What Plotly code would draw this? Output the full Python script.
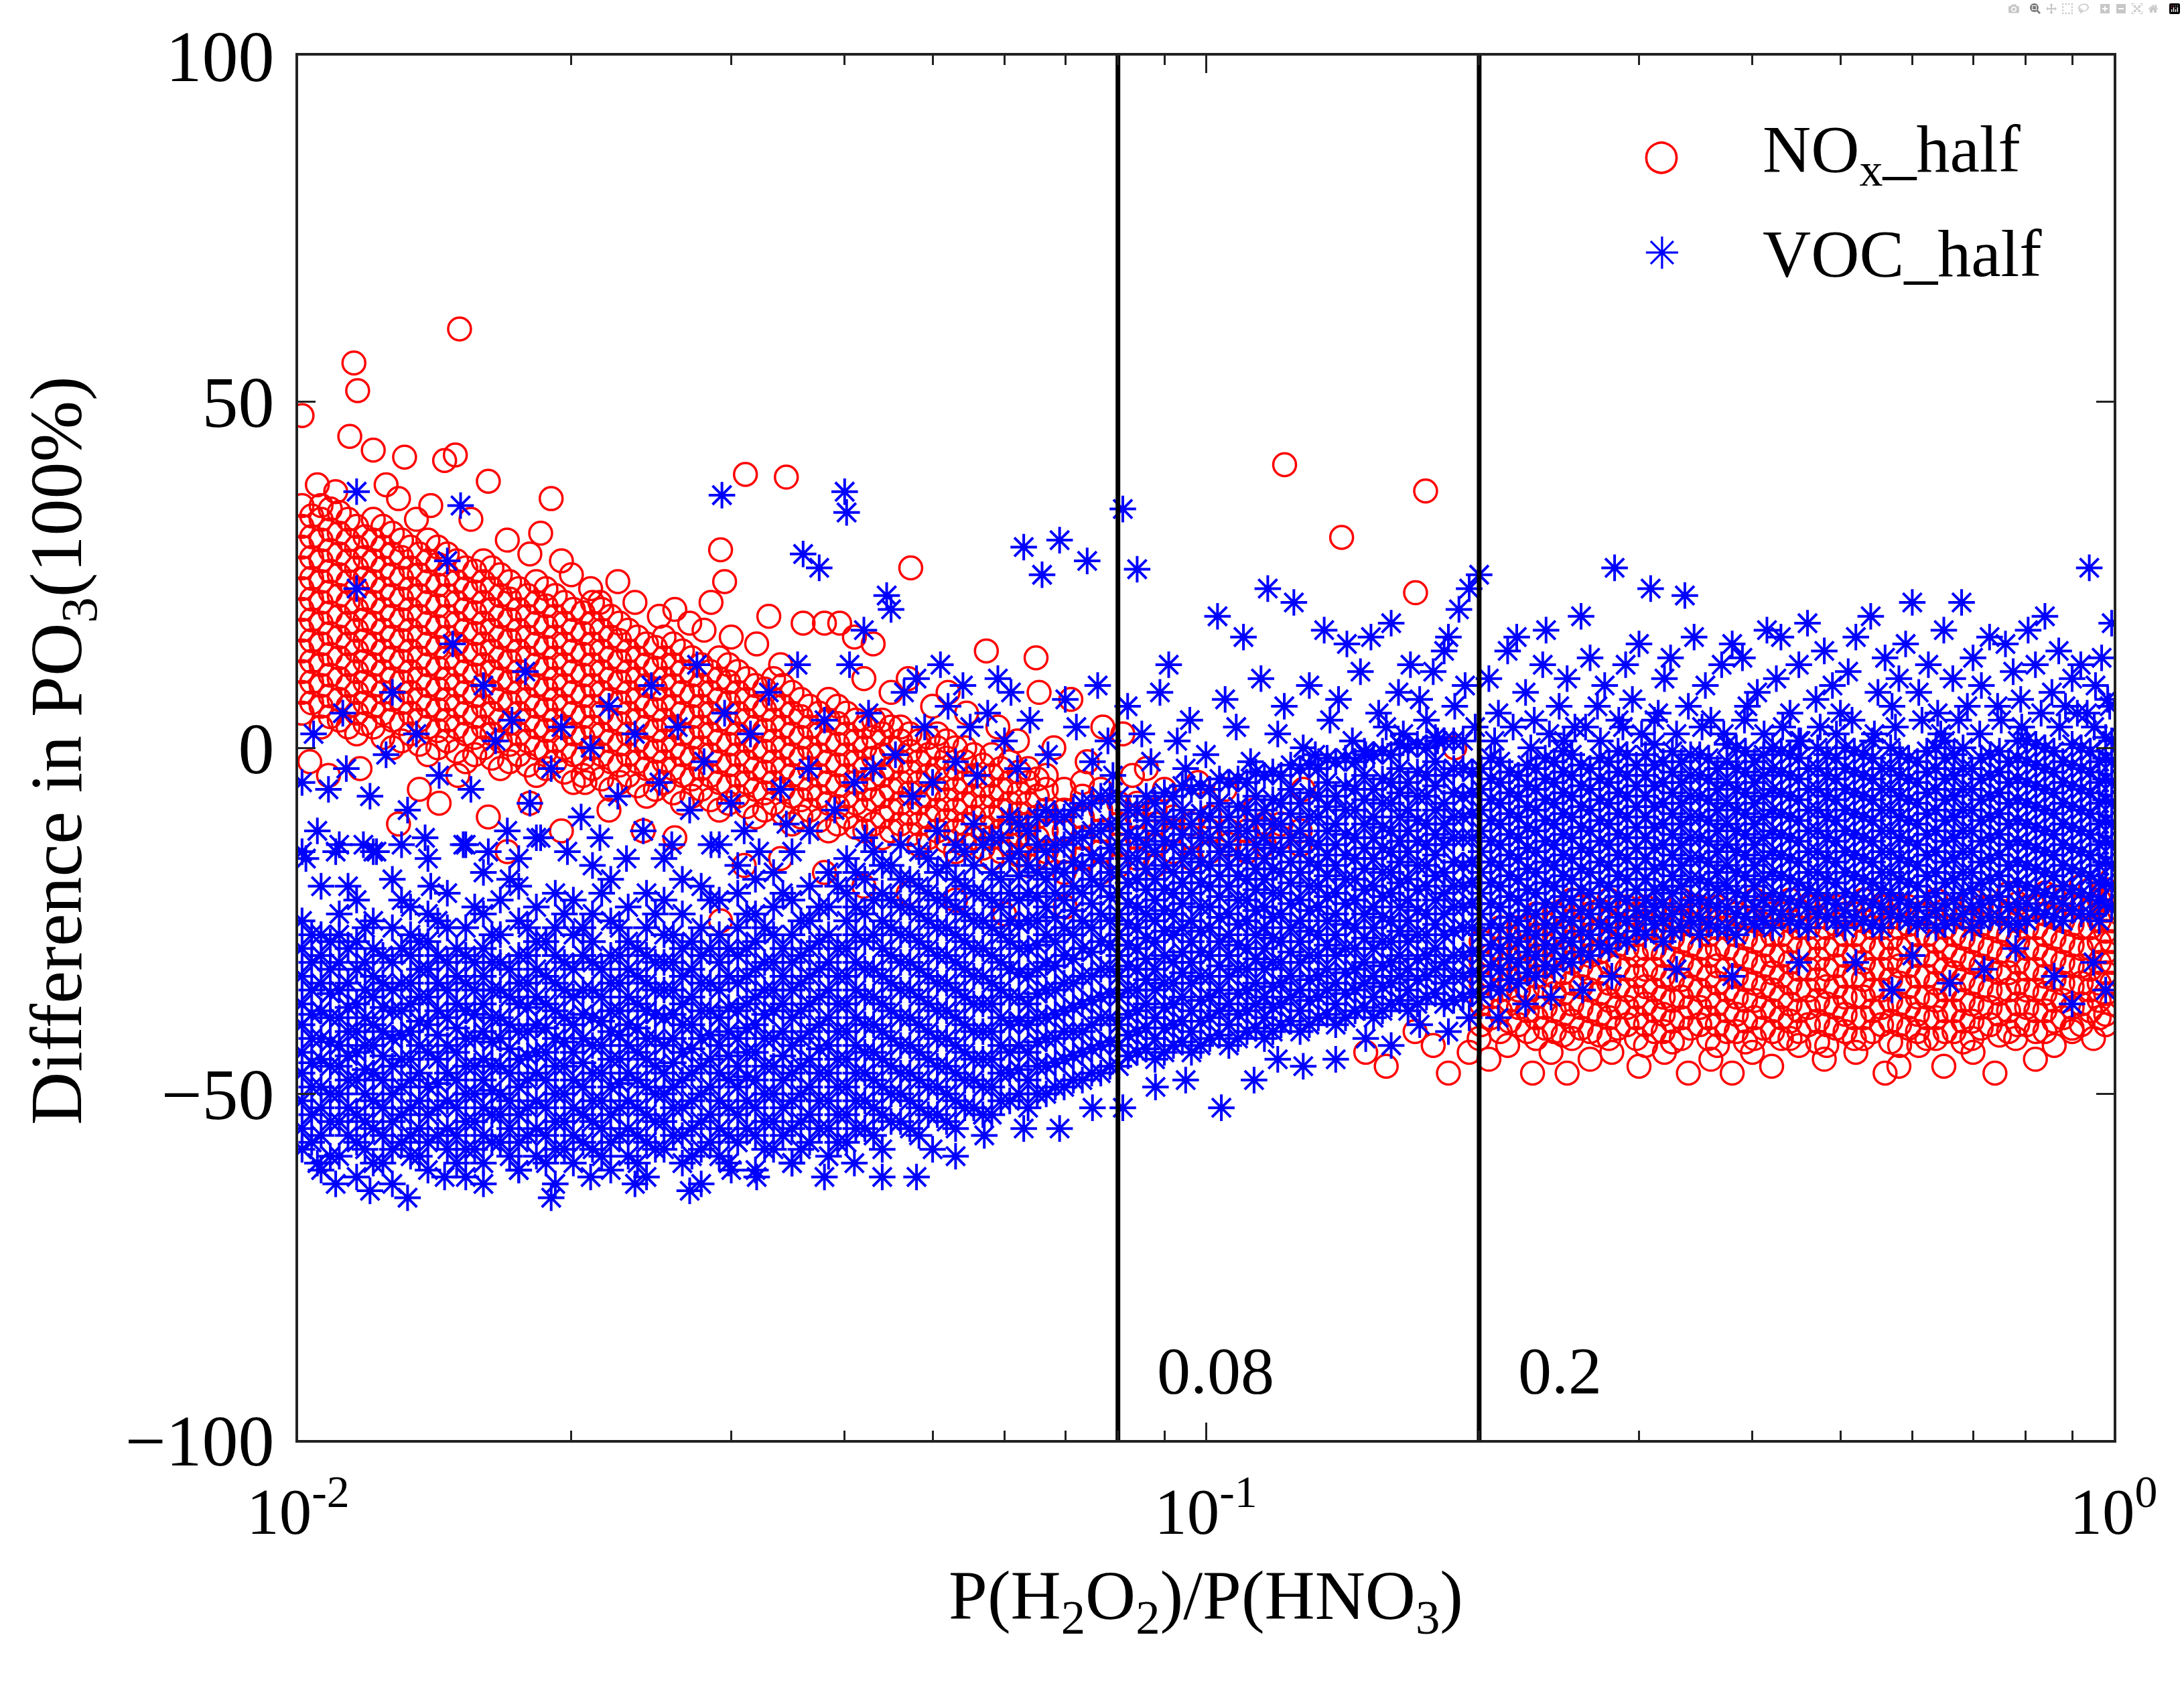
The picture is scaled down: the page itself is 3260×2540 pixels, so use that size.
import math
import plotly.graph_objects as go

# ---------------- data ----------------
# NOx_half (red circles): dense band, x of each column and the y values in it
nox_band_x = [0.0101, 0.0106, 0.0111, 0.0116, 0.0121, 0.0127, 0.0133, 0.0139, 0.0146, 0.0153,
              0.0160, 0.0167, 0.0175, 0.0183, 0.0192, 0.0201, 0.0211, 0.0221, 0.0231, 0.0242,
              0.0253, 0.0265, 0.0278, 0.0291, 0.0305, 0.0319, 0.0334, 0.0350, 0.0366, 0.0384,
              0.0402, 0.0421, 0.0440, 0.0461, 0.0483, 0.0506, 0.0530, 0.0555, 0.0581, 0.0608,
              0.0637, 0.0667, 0.0698, 0.0731, 0.0766, 0.0802, 0.0840, 0.0879, 0.0921, 0.0964,
              0.101, 0.106, 0.111, 0.116, 0.121, 0.127]
nox_band_y = [
    [5, 8, 11, 14, 17, 20, 23, 26, 29, 32, 35],
    [3, 6, 9, 12, 15, 18, 21, 24, 27, 30, 33, 35],
    [4, 7, 10, 13, 16, 19, 22, 25, 28, 31, 34],
    [2, 5, 8, 11, 14, 17, 20, 23, 26, 29, 32],
    [3, 6, 9, 12, 15, 18, 21, 24, 27, 30, 33],
    [0, 4, 7, 10, 13, 16, 19, 22, 25, 28, 31],
    [2, 5, 8, 11, 14, 17, 20, 23, 26, 29],
    [-1, 3, 6, 9, 12, 15, 18, 21, 24, 27, 30],
    [1, 4, 7, 10, 13, 16, 19, 22, 25, 28],
    [-2, 2, 5, 8, 11, 14, 17, 20, 23, 26],
    [0, 3, 6, 9, 12, 15, 18, 21, 24, 27],
    [-3, 1, 4, 7, 10, 13, 16, 19, 22, 25],
    [-1, 2, 5, 8, 11, 14, 17, 20, 23],
    [-4, 0, 3, 6, 9, 12, 15, 18, 21, 24],
    [-2, 1, 4, 7, 10, 13, 16, 19, 22],
    [-5, -1, 2, 5, 8, 11, 14, 17, 20],
    [-3, 0, 3, 6, 9, 12, 15, 18, 21],
    [-6, -2, 1, 4, 7, 10, 13, 16, 19],
    [-4, -1, 2, 5, 8, 11, 14, 17],
    [-7, -3, 0, 3, 6, 9, 12, 15],
    [-5, -2, 1, 4, 7, 10, 13, 16],
    [-8, -4, -1, 2, 5, 8, 11, 14],
    [-6, -3, 0, 3, 6, 9, 12],
    [-9, -5, -2, 1, 4, 7, 10, 13],
    [-7, -4, -1, 2, 5, 8, 11],
    [-10, -6, -3, 0, 3, 6, 9],
    [-8, -5, -2, 1, 4, 7, 10],
    [-11, -7, -4, -1, 2, 5, 8],
    [-9, -6, -3, 0, 3, 6],
    [-12, -8, -5, -2, 1, 4, 7],
    [-10, -7, -4, -1, 2, 5],
    [-12, -9, -6, -3, 0, 3],
    [-13, -10, -7, -4, -1, 2, 4],
    [-11, -8, -5, -2, 1, 3],
    [-14, -11, -8, -5, -2, 1],
    [-12, -9, -6, -3, 0, 2],
    [-15, -12, -9, -6, -3, 0],
    [-13, -10, -7, -4, -1],
    [-16, -13, -10, -7, -4, -1],
    [-14, -11, -8, -5, -2],
    [-17, -14, -11, -8, -5, -3],
    [-15, -12, -9, -6, -4],
    [-18, -15, -12, -9, -6],
    [-16, -13, -10, -7, -5],
    [-18, -15, -12, -9, -6],
    [-17, -14, -11, -8],
    [-16, -13, -10, -8],
    [-17, -14, -11, -9],
    [-15, -12, -10],
    [-16, -13, -11],
    [-15, -12, -10],
    [-14, -12],
    [-15, -12],
    [-14, -11],
    [-13, -11],
    [-14, -12],
]
# NOx_half: in-between columns of the same band
nox_band2_x = [0.01035, 0.01085, 0.01135, 0.01185, 0.0124, 0.0130, 0.0136, 0.01425, 0.01495, 0.01565,
               0.01635, 0.0171, 0.0179, 0.01875, 0.01965, 0.0206, 0.0216, 0.0226, 0.02365, 0.02475,
               0.0259, 0.02715, 0.02845, 0.0298, 0.0312, 0.03265, 0.0342, 0.0358, 0.0375, 0.0393,
               0.04115, 0.04305, 0.0450, 0.0472, 0.04945, 0.0518, 0.05425, 0.0568, 0.05945, 0.06225,
               0.0652]
nox_band2_y = [
    [6.5, 9.5, 12.5, 15.5, 18.5, 21.5, 24.5, 27.5, 30.5, 33.5],
    [4.5, 7.5, 10.5, 13.5, 16.5, 19.5, 22.5, 25.5, 28.5, 31.5, 34.5],
    [3, 6, 9, 12, 15, 18, 21, 24, 27, 30, 33],
    [3.5, 6.5, 9.5, 12.5, 15.5, 18.5, 21.5, 24.5, 27.5, 30.5],
    [1.5, 5, 8, 11, 14, 17, 20, 23, 26, 29, 32],
    [1, 3.5, 6.5, 9.5, 12.5, 15.5, 18.5, 21.5, 24.5, 27.5, 30],
    [0.5, 4, 7, 10, 13, 16, 19, 22, 25, 28],
    [0, 2.5, 5.5, 8.5, 11.5, 14.5, 17.5, 20.5, 23.5, 26.5, 29],
    [-0.5, 3, 6, 9, 12, 15, 18, 21, 24, 27],
    [-1, 1.5, 4.5, 7.5, 10.5, 13.5, 16.5, 19.5, 22.5, 25.5],
    [-1.5, 2, 5, 8, 11, 14, 17, 20, 23, 26],
    [-2, 0.5, 3.5, 6.5, 9.5, 12.5, 15.5, 18.5, 21.5, 24],
    [-2.5, 1, 4, 7, 10, 13, 16, 19, 22],
    [-3, -0.5, 2.5, 5.5, 8.5, 11.5, 14.5, 17.5, 20.5, 23],
    [-3.5, 0, 3, 6, 9, 12, 15, 18, 21],
    [-4, -1.5, 1.5, 4.5, 7.5, 10.5, 13.5, 16.5, 19.5],
    [-4.5, -1, 2, 5, 8, 11, 14, 17, 20],
    [-5, -2.5, 0.5, 3.5, 6.5, 9.5, 12.5, 15.5, 18],
    [-5.5, -2, 1, 4, 7, 10, 13, 16],
    [-6, -3.5, -0.5, 2.5, 5.5, 8.5, 11.5, 14.5],
    [-6.5, -3, 0, 3, 6, 9, 12, 15],
    [-7, -4.5, -1.5, 1.5, 4.5, 7.5, 10.5, 13],
    [-7.5, -4, -1, 2, 5, 8, 11],
    [-8, -5.5, -2.5, 0.5, 3.5, 6.5, 9.5, 12],
    [-8.5, -5, -2, 1, 4, 7, 10],
    [-9, -6.5, -3.5, -0.5, 2.5, 5.5, 8.5],
    [-9.5, -6, -3, 0, 3, 6, 9],
    [-10, -7.5, -4.5, -1.5, 1.5, 4.5, 7],
    [-10.5, -7, -4, -1, 2, 5],
    [-11, -8.5, -5.5, -2.5, 0.5, 3.5, 6],
    [-11.5, -8, -5, -2, 1, 4],
    [-11, -7.5, -4.5, -1.5, 1.5, 4],
    [-12, -9, -6, -3, 0, 3],
    [-12.5, -9.5, -6.5, -3.5, -0.5, 2],
    [-13, -10, -7, -4, -1, 1.5],
    [-13.5, -10.5, -7.5, -4.5, -1.5, 1],
    [-14, -11, -8, -5, -2, 0],
    [-14.5, -11.5, -8.5, -5.5, -2.5],
    [-15, -12, -9, -6, -3],
    [-15.5, -12.5, -9.5, -6.5, -3.5],
    [-16, -13, -10, -7, -4.5],
]
# NOx_half: lower band between 0.2 and 1
nox_low_x = [0.201, 0.211, 0.221, 0.231, 0.242, 0.253, 0.265, 0.278, 0.291, 0.305,
             0.319, 0.334, 0.350, 0.366, 0.384, 0.402, 0.421, 0.440, 0.461, 0.483,
             0.506, 0.530, 0.555, 0.581, 0.608, 0.637, 0.667, 0.698, 0.731, 0.766,
             0.802, 0.840, 0.879, 0.921, 0.964, 0.995]
nox_low_y = [
    [-40, -37, -34, -31, -28],
    [-41, -38, -35, -32, -29, -26],
    [-40, -37.5, -35, -32, -29, -26],
    [-42, -39, -36, -33, -30, -27, -24],
    [-41, -38, -35.5, -33, -30, -27, -24],
    [-42, -39.5, -37, -34, -31, -28, -25, -22],
    [-41, -38, -35, -32.5, -30, -27, -24],
    [-42, -39, -36.5, -34, -31, -28, -25, -22],
    [-40, -37.5, -35, -32, -29, -26, -23],
    [-43, -40, -37, -34.5, -32, -29, -26, -23],
    [-41, -38.5, -36, -33, -30, -27, -24],
    [-42, -39, -36, -33.5, -31, -28, -25, -22],
    [-40, -37.5, -35, -32, -29, -26, -23],
    [-43, -40, -37, -34, -31.5, -29, -26, -23],
    [-41, -38.5, -36, -33, -30, -27, -24],
    [-42, -39, -36.5, -34, -31, -28, -25, -22],
    [-41, -38, -35, -32.5, -30, -27, -24],
    [-42, -39.5, -37, -34, -31, -28, -25, -22],
    [-40, -37.5, -35, -32, -29, -26, -23],
    [-43, -40, -37, -34.5, -32, -29, -26, -23],
    [-41, -38.5, -36, -33, -30, -27, -24],
    [-42, -39, -36, -33.5, -31, -28, -25, -22],
    [-40, -37.5, -35, -32, -29, -26, -23],
    [-43, -40, -37, -34, -31.5, -29, -26, -23],
    [-41, -38.5, -36, -33, -30, -27, -24],
    [-42, -39, -36.5, -34, -31, -28, -25, -22],
    [-41, -38, -35, -32.5, -30, -27, -24],
    [-42, -39.5, -37, -34, -31, -28, -25, -22],
    [-40, -37.5, -35, -32, -29, -26, -23],
    [-41, -38, -35, -32.5, -30, -27, -24, -21],
    [-40, -37.5, -35, -32, -29, -26, -23],
    [-41, -38, -35.5, -33, -30, -27, -24, -21],
    [-39, -36.5, -34, -31, -28, -25, -22],
    [-40, -37, -34, -31.5, -29, -26, -23, -20],
    [-39, -36.5, -34, -31, -28, -25, -22],
    [-37, -34, -31, -28, -25, -22, -19],
]
nox_low2_x = [0.206, 0.216, 0.226, 0.2365, 0.2475, 0.259, 0.2715, 0.2845, 0.298, 0.312,
              0.3265, 0.342, 0.358, 0.375, 0.393, 0.4115, 0.4305, 0.450, 0.472, 0.4945,
              0.518, 0.5425, 0.568, 0.5945, 0.6225, 0.652, 0.6825, 0.7145, 0.7485, 0.784,
              0.821, 0.8595, 0.900, 0.9425, 0.98]
nox_low2_y = [
    [-39, -36, -33, -30],
    [-39.5, -36.5, -33.5, -30.5, -27.5],
    [-41, -38, -35, -32, -29, -26],
    [-40.5, -37.5, -34.5, -31.5, -28.5, -25.5],
    [-41.5, -38.5, -35.5, -32.5, -29.5, -26.5, -23.5],
    [-40.5, -37.5, -34.5, -31.5, -28.5, -25.5, -23],
    [-41.5, -38.5, -35.5, -32.5, -29.5, -26.5, -23.5],
    [-40.5, -37.5, -34.5, -31.5, -28.5, -25.5, -23],
    [-42, -39, -36, -33, -30, -27, -24],
    [-41, -38, -35, -32, -29, -26, -23.5],
    [-42.5, -39.5, -36.5, -33.5, -30.5, -27.5, -24.5],
    [-40.5, -37.5, -34.5, -31.5, -28.5, -25.5, -23],
    [-42, -39, -36, -33, -30, -27, -24],
    [-41, -38, -35, -32, -29, -26, -23.5],
    [-42.5, -39.5, -36.5, -33.5, -30.5, -27.5, -24.5],
    [-40.5, -37.5, -34.5, -31.5, -28.5, -25.5, -23],
    [-42, -39, -36, -33, -30, -27, -24],
    [-41, -38, -35, -32, -29, -26, -23.5],
    [-42.5, -39.5, -36.5, -33.5, -30.5, -27.5, -24.5],
    [-40.5, -37.5, -34.5, -31.5, -28.5, -25.5, -23],
    [-42, -39, -36, -33, -30, -27, -24],
    [-41, -38, -35, -32, -29, -26, -23.5],
    [-42.5, -39.5, -36.5, -33.5, -30.5, -27.5, -24.5],
    [-40.5, -37.5, -34.5, -31.5, -28.5, -25.5, -23],
    [-42, -39, -36, -33, -30, -27, -24],
    [-41, -38, -35, -32, -29, -26, -23.5],
    [-42.5, -39.5, -36.5, -33.5, -30.5, -27.5, -24.5],
    [-40.5, -37.5, -34.5, -31.5, -28.5, -25.5, -23],
    [-41.5, -38.5, -35.5, -32.5, -29.5, -26.5, -23.5],
    [-40, -37, -34, -31, -28, -25, -22.5],
    [-41, -38, -35, -32, -29, -26, -23],
    [-39.5, -36.5, -33.5, -30.5, -27.5, -24.5, -21.5],
    [-40.5, -37.5, -34.5, -31.5, -28.5, -25.5, -22.5],
    [-38, -35, -32, -29, -26, -23, -20.5],
    [-38.5, -35.5, -32.5, -29.5, -26.5, -23.5, -20.5],
]
# NOx_half: scattered points (x, y)
nox_pts = [
    (0.0101, 48), (0.0114, 45), (0.01152, 55.6), (0.01163, 51.6), (0.0121, 43), (0.0129, 36),
    (0.0131, 42), (0.0145, 41.5), (0.0149, 42.3), (0.01506, 60.5), (0.0162, 38.5), (0.0190, 36),
    (0.0311, 39.5), (0.0345, 39.1), (0.0292, 28.6), (0.0473, 26), (0.1221, 40.9), (0.1411, 30.4),
    (0.1746, 37.1), (0.1702, 22.4),
    (0.0105, 38), (0.0110, 37), (0.0125, 38), (0.0135, 33), (0.0140, 35), (0.0155, 33),
    (0.0170, 30), (0.0180, 28), (0.0185, 31), (0.0195, 27), (0.0200, 25), (0.0210, 23),
    (0.0215, 21), (0.0225, 24), (0.0235, 21), (0.0250, 19), (0.0260, 20), (0.0270, 18),
    (0.0280, 17), (0.0285, 21), (0.0295, 24), (0.0300, 16), (0.0320, 15), (0.0330, 19),
    (0.0340, 12), (0.0360, 18), (0.0380, 18), (0.0395, 18), (0.0410, 16), (0.0420, 10),
    (0.0430, 15), (0.0450, 8), (0.0470, 10), (0.0500, 6), (0.0520, 8), (0.0545, 5),
    (0.0573, 14), (0.0590, 3), (0.0620, 1), (0.0650, 13), (0.0655, 8), (0.0680, 0),
    (0.0710, 7), (0.0740, -2), (0.0770, 3), (0.0810, 2), (0.0830, -4), (0.0860, -3),
    (0.0900, -6), (0.0980, -5), (0.1050, -6), (0.1130, -9), (0.1280, -6), (0.1880, 0),
    (0.0103, -2), (0.0108, -4), (0.0117, -3), (0.0129, -11), (0.0136, -6), (0.0143, -8),
    (0.0150, -4), (0.0162, -10), (0.0170, -15), (0.0180, -8), (0.0195, -12), (0.0207, -5),
    (0.0220, -9), (0.0240, -12), (0.0260, -13), (0.0292, -25), (0.0310, -17), (0.0340, -16),
    (0.0380, -18), (0.0420, -20), (0.0470, -21), (0.0530, -22), (0.0600, -24), (0.0700, -23),
    (0.150, -44), (0.158, -46), (0.170, -41), (0.178, -43), (0.185, -47), (0.195, -44),
    (0.200, -42), (0.205, -45), (0.215, -43), (0.229, -47), (0.240, -44), (0.250, -47),
    (0.265, -45), (0.280, -44), (0.300, -46), (0.320, -44), (0.340, -47), (0.360, -45),
    (0.380, -47), (0.400, -44), (0.420, -46), (0.450, -43), (0.480, -45), (0.520, -44),
    (0.560, -47), (0.580, -46), (0.610, -43), (0.650, -46), (0.700, -44), (0.740, -47),
    (0.780, -42), (0.820, -45), (0.860, -43), (0.900, -41), (0.950, -42), (0.980, -40),
]

# VOC_half (blue stars): dense cloud, x of each column and the y values in it
voc_band_x = [0.0101, 0.0106, 0.0111, 0.0116, 0.0121, 0.0127, 0.0133, 0.0139, 0.0146, 0.0153,
              0.0160, 0.0167, 0.0175, 0.0183, 0.0192, 0.0201, 0.0211, 0.0221, 0.0231, 0.0242,
              0.0253, 0.0265, 0.0278, 0.0291, 0.0305, 0.0319, 0.0334, 0.0350, 0.0366, 0.0384,
              0.0402, 0.0421, 0.0440, 0.0461, 0.0483, 0.0506, 0.0530, 0.0555, 0.0581, 0.0608,
              0.0637, 0.0667, 0.0698, 0.0731, 0.0766, 0.0802, 0.0840, 0.0879, 0.0921, 0.0964,
              0.101, 0.106, 0.111, 0.116, 0.121, 0.127, 0.133, 0.139, 0.146, 0.153,
              0.160, 0.167, 0.175, 0.183, 0.192, 0.201, 0.211, 0.221, 0.231, 0.242,
              0.253, 0.265, 0.278, 0.291, 0.305, 0.319, 0.334, 0.350, 0.366, 0.384,
              0.402, 0.421, 0.440, 0.461, 0.483, 0.506, 0.530, 0.555, 0.581, 0.608,
              0.637, 0.667, 0.698, 0.731, 0.766, 0.802, 0.840, 0.879, 0.921, 0.964, 0.995]
voc_band_y = [
    [-58, -55, -51, -47, -44, -40, -37, -33, -29, -25, -15],
    [-61, -56, -52, -49, -45, -42, -38, -34, -30, -27, -20],
    [-59, -54, -50, -46, -43, -39, -35, -31, -27, -24, -14],
    [-62, -57, -53, -48, -44, -41, -37, -32, -28, -22],
    [-60, -55, -51, -47, -43, -40, -36, -33, -29, -25, -15],
    [-63, -58, -54, -50, -46, -42, -38, -35, -31, -26, -19],
    [-59, -56, -52, -48, -45, -41, -37, -34, -30, -27, -23],
    [-61, -57, -53, -49, -44, -40, -36, -32, -28, -24, -16],
    [-58, -55, -51, -47, -43, -39, -35, -31, -26, -21],
    [-62, -58, -54, -50, -46, -42, -38, -34, -30, -26, -14],
    [-60, -56, -52, -48, -45, -41, -37, -33, -29, -24, -18],
    [-57, -53, -50, -46, -42, -39, -35, -31, -27, -22],
    [-61, -57, -53, -49, -45, -41, -37, -34, -30, -25, -20],
    [-59, -55, -51, -47, -44, -40, -36, -32, -28, -23, -13],
    [-63, -58, -54, -50, -46, -42, -38, -34, -30, -26, -21],
    [-60, -56, -52, -48, -44, -40, -36, -32, -27, -22],
    [-58, -54, -51, -47, -43, -39, -35, -31, -28, -24, -17],
    [-61, -57, -53, -49, -45, -41, -38, -34, -30, -25, -19],
    [-59, -55, -51, -47, -43, -40, -36, -32, -28, -23],
    [-62, -57, -53, -49, -45, -42, -38, -34, -30, -26, -21],
    [-58, -54, -50, -47, -43, -39, -35, -31, -27, -22, -16],
    [-60, -56, -52, -48, -44, -40, -37, -33, -29, -24, -19],
    [-63, -58, -54, -50, -46, -42, -38, -34, -30, -26, -20],
    [-59, -55, -51, -47, -43, -39, -35, -31, -27, -22, -14],
    [-57, -53, -49, -46, -42, -38, -34, -30, -26, -21, -17],
    [-61, -56, -52, -48, -44, -40, -36, -32, -28, -24, -19],
    [-58, -54, -50, -46, -42, -38, -35, -31, -27, -23, -18],
    [-60, -55, -51, -47, -43, -39, -35, -31, -27, -22, -15],
    [-57, -53, -49, -45, -41, -37, -33, -29, -25, -20, -12],
    [-59, -55, -51, -47, -43, -39, -35, -31, -27, -23, -18],
    [-57, -53, -49, -45, -41, -37, -33, -29, -25, -21, -16],
    [-55, -51, -47, -44, -40, -36, -32, -28, -24, -19, -13],
    [-58, -53, -49, -45, -41, -37, -33, -29, -25, -21, -17],
    [-54, -50, -47, -43, -39, -35, -31, -27, -23, -19, -14],
    [-56, -52, -48, -44, -40, -36, -32, -28, -24, -20, -15],
    [-53, -49, -46, -42, -38, -34, -30, -26, -22, -18, -12],
    [-55, -51, -47, -43, -39, -35, -31, -27, -23, -19, -14],
    [-52, -48, -45, -41, -37, -33, -29, -25, -21, -17, -11],
    [-53, -49, -45, -41, -37, -34, -30, -26, -22, -18, -13],
    [-51, -47, -44, -40, -36, -32, -28, -25, -21, -16, -10],
    [-52, -48, -44, -40, -37, -33, -29, -25, -21, -17, -12],
    [-50, -46, -42, -39, -35, -31, -27, -23, -19, -15, -9],
    [-49, -45, -41, -38, -34, -30, -26, -22, -18, -14, -10],
    [-48, -44, -41, -37, -33, -29, -25, -21, -17, -13, -8],
    [-47, -43, -39, -36, -32, -28, -24, -20, -16, -12, -7],
    [-46, -43, -40, -36, -33, -30, -27, -24, -21, -18, -14, -11, -7],
    [-44, -41, -38, -35, -32, -29, -26, -23, -19, -16, -13, -9],
    [-45, -42, -39, -35, -32, -28, -25, -22, -19, -15, -12, -8],
    [-43, -40, -37, -34, -31, -27, -24, -21, -18, -14, -11, -7],
    [-44, -41, -38, -34, -31, -28, -25, -21, -18, -15, -11, -6],
    [-42, -39, -36, -33, -30, -26, -23, -20, -17, -13, -10, -6],
    [-43, -40, -37, -33, -30, -27, -24, -20, -17, -14, -10, -5],
    [-41, -38, -35, -32, -29, -25, -22, -19, -16, -12, -9, -5],
    [-42, -39, -36, -32, -29, -26, -23, -19, -16, -13, -9, -4],
    [-40, -37, -34, -31, -28, -24, -21, -18, -15, -11, -8, -4],
    [-41, -38, -35, -31, -28, -25, -22, -18, -15, -12, -8, -3],
    [-39, -36, -33, -30, -27, -23, -20, -17, -14, -10, -7, -3],
    [-40, -37, -34, -30, -27, -24, -21, -17, -14, -11, -7, -2],
    [-38, -35, -32, -29, -26, -22, -19, -16, -13, -9, -6, -2],
    [-39, -36, -33, -29, -26, -23, -20, -16, -13, -10, -6, -1],
    [-37, -34, -31, -28, -25, -21, -18, -15, -12, -8, -5, -1],
    [-38, -35, -32, -28, -25, -22, -19, -15, -12, -9, -5, 0],
    [-36, -33, -30, -27, -24, -20, -17, -14, -11, -7, -4, 0],
    [-37, -34, -31, -27, -24, -21, -18, -14, -11, -8, -4, 1],
    [-36, -33, -30, -26, -23, -20, -17, -13, -10, -7, -3, 1],
    [-36, -33, -30, -27, -24, -21, -18, -15, -12, -9, -6, -3],
    [-35, -32, -29, -26, -23, -20, -17, -14, -11, -8, -5, -2],
    [-34, -31, -28, -25, -22, -19, -16, -13, -10, -7, -4],
    [-33, -30, -27, -24, -21, -18, -15, -12, -9, -6, -3],
    [-32, -29, -26, -23, -20, -17, -14, -11, -8, -5, -2],
    [-31, -28, -25, -22, -19, -16, -13, -10, -7, -4, -1],
    [-30, -27, -24, -21, -18, -15, -12, -9, -6, -3],
    [-29, -26, -23, -20, -17, -14, -11, -8, -5, -2],
    [-28, -25, -22, -19, -16, -13, -10, -7, -4, -1],
    [-27, -24.5, -22, -19, -16, -13, -10, -7, -4, -1],
    [-28, -25, -22.5, -20, -17, -14, -11, -8, -5, -2],
    [-26, -23, -20, -17, -14, -11, -8, -5, -2],
    [-27, -24.5, -22, -19, -16, -13, -10, -7, -4, -1],
    [-26, -23, -20.5, -18, -15, -12, -9, -6, -3],
    [-27, -24, -21, -18, -15, -12, -9, -6, -3, 0],
    [-25.5, -23, -20, -17, -14, -11, -8, -5, -2],
    [-26, -23.5, -21, -18, -15, -12, -9, -6, -3, 0],
    [-25, -22, -19, -16, -13, -10, -7, -4, -1],
    [-26, -23, -20.5, -18, -15, -12, -9, -6, -3],
    [-24.5, -22, -19, -16, -13, -10, -7, -4, -1],
    [-26, -23.5, -21, -18, -15, -12, -9, -6, -3, 0],
    [-25, -22, -19, -16, -13, -10, -7, -4, -1],
    [-26, -23, -20.5, -18, -15, -12, -9, -6, -3],
    [-24.5, -22, -19, -16, -13, -10, -7, -4, -1],
    [-25.5, -23, -20, -17, -14, -11, -8, -5, -2],
    [-26, -23.5, -21, -18, -15, -12, -9, -6, -3, 0],
    [-25, -22, -19, -16, -13, -10, -7, -4, -1],
    [-26, -23, -20.5, -18, -15, -12, -9, -6, -3],
    [-24.5, -22, -19, -16, -13, -10, -7, -4, -1],
    [-25.5, -23, -20, -17, -14, -11, -8, -5, -2],
    [-25, -22.5, -20, -17, -14, -11, -8, -5, -2, 1],
    [-24, -21, -18, -15, -12, -9, -6, -3, 0],
    [-25, -22.5, -20, -17, -14, -11, -8, -5, -2],
    [-24, -21, -18, -15, -12, -9, -6, -3, 0],
    [-25, -22, -19.5, -17, -14, -11, -8, -5, -2],
    [-23, -20, -17, -14, -11, -8, -5, -2, 1],
]
# VOC_half: in-between columns of the same cloud
voc_band2_x = [0.01035, 0.01085, 0.01135, 0.01185, 0.0124, 0.0130, 0.0136, 0.01425, 0.01495, 0.01565,
               0.01635, 0.0171, 0.0179, 0.01875, 0.01965, 0.0206, 0.0216, 0.0226, 0.02365, 0.02475,
               0.0259, 0.02715, 0.02845, 0.0298, 0.0312, 0.03265, 0.0342, 0.0358, 0.0375, 0.0393,
               0.04115, 0.04305, 0.0450, 0.0472, 0.04945, 0.0518, 0.05425, 0.0568, 0.05945, 0.06225,
               0.0652, 0.06825, 0.07145, 0.07485, 0.0784, 0.0821, 0.08595, 0.0900, 0.0942, 0.0987,
               0.1035, 0.1085, 0.1135, 0.1185, 0.124, 0.130, 0.136, 0.1425, 0.1495, 0.1565,
               0.1635, 0.171, 0.179, 0.1875, 0.1965, 0.206, 0.216, 0.226, 0.2365, 0.2475,
               0.259, 0.2715, 0.2845, 0.298, 0.312, 0.3265, 0.342, 0.358, 0.375, 0.393,
               0.4115, 0.4305, 0.450, 0.472, 0.4945, 0.518, 0.5425, 0.568, 0.5945, 0.6225,
               0.652, 0.6825, 0.7145, 0.7485, 0.784, 0.821, 0.8595, 0.900, 0.9425, 0.98]
voc_band2_y = [
    [-57, -53, -49, -45.5, -42, -38.5, -35, -31, -27],
    [-59, -54, -50, -46, -42.5, -39, -35.5, -32, -28],
    [-56, -52, -48, -44.5, -41, -37.5, -34, -29, -20],
    [-58, -54, -50, -46.5, -43, -39, -35, -31, -26],
    [-60, -56, -52, -48, -44.5, -41, -37.5, -34, -30],
    [-57, -53, -49, -45, -41.5, -38, -34, -29, -22],
    [-59, -55, -51, -47, -43, -39.5, -36, -32, -28],
    [-56, -52, -48.5, -45, -41.5, -38, -34, -30, -25],
    [-60, -56, -52, -48, -44, -40.5, -37, -33, -29],
    [-58, -54, -50, -46, -42, -38.5, -35, -31, -23],
    [-57, -53, -49.5, -46, -42.5, -39, -35, -31, -27],
    [-59, -55, -51, -47, -43.5, -40, -36, -32, -19],
    [-56, -52, -48, -44.5, -41, -37.5, -34, -30, -26],
    [-60, -56, -52, -48, -44, -40.5, -37, -33, -28],
    [-58, -54, -50, -46, -42.5, -39, -35, -31, -24],
    [-57, -53, -49, -45.5, -42, -38.5, -35, -30, -26],
    [-59, -55, -51, -47, -43, -39.5, -36, -32, -21],
    [-56, -52, -48.5, -45, -41.5, -38, -34, -30, -26],
    [-60, -56, -52, -48, -44, -40.5, -37, -33, -29],
    [-58, -54, -50, -46, -42, -38.5, -35, -31, -24],
    [-56, -52, -49, -45.5, -42, -38.5, -35, -31, -27],
    [-59, -55, -51, -47, -43.5, -40, -36, -32, -28],
    [-57, -53, -49, -45, -41.5, -38, -34, -29, -22],
    [-60, -56, -52, -48, -44.5, -41, -37.5, -33, -29],
    [-55, -51, -47.5, -44, -40.5, -37, -33, -29, -24],
    [-58, -54, -50, -46, -42, -38.5, -35, -31, -26],
    [-56, -52, -48, -44.5, -41, -37, -33, -29, -21],
    [-58, -54, -50, -46, -42, -38, -34, -30, -25],
    [-55, -51, -47, -43.5, -40, -36, -32, -28, -23],
    [-57, -53, -49, -45, -41, -37, -33, -29, -20],
    [-55, -51, -47, -43, -39, -35, -31, -27, -23, -18],
    [-56, -52, -48, -44, -40, -36, -32, -27, -22, -15],
    [-54, -50, -46, -42, -38, -34, -30, -26, -22, -17],
    [-55, -51, -47, -43, -39, -35, -31, -27, -23, -19],
    [-53, -49, -45, -41, -37, -33, -29, -25, -21, -16],
    [-54, -50, -46, -42, -38, -34, -30, -26, -22, -17],
    [-52, -48, -44, -40, -36, -32, -28, -24, -20, -15],
    [-53, -49, -45, -41, -37, -33, -29, -25, -21, -14],
    [-51, -47, -43, -39, -35, -31, -27, -23, -19, -13],
    [-50, -46.5, -43, -39.5, -36, -32.5, -29, -25.5, -22, -18.5, -15, -11],
    [-50, -46, -42.5, -39, -35.5, -32, -28.5, -25, -21.5, -18, -14, -10],
    [-49, -45.5, -42, -38.5, -35, -31.5, -28, -24.5, -21, -17.5, -14, -10],
    [-48, -44.5, -41, -37.5, -34, -30.5, -27, -23.5, -20, -16.5, -13, -9],
    [-47, -43.5, -40, -36.5, -33, -29.5, -26, -22.5, -19, -15.5, -12, -8],
    [-46, -42.5, -39, -35.5, -32, -28.5, -25, -21.5, -18, -14.5, -11, -7],
    [-44.5, -41.5, -38.5, -35, -31.5, -28.5, -25.5, -22.5, -19.5, -16, -12.5, -9],
    [-43.5, -40.5, -37, -33.5, -30.5, -27.5, -24, -20.5, -17.5, -14, -10.5, -7],
    [-44, -40.5, -37.5, -34, -30, -26.5, -23.5, -20.5, -17, -13.5, -10, -6.5],
    [-42.5, -39.5, -36, -32.5, -29.5, -26, -22.5, -19.5, -16, -12.5, -9, -5.5],
    [-43, -39.5, -36.5, -33, -29.5, -26.5, -23, -19.5, -16.5, -13, -9.5, -5.5],
    [-41.5, -38, -35, -31.5, -28, -24.5, -21.5, -18.5, -15, -11.5, -8, -4.5],
    [-42, -38.5, -35.5, -32, -28.5, -25.5, -22, -18.5, -15.5, -12, -8.5, -4.5],
    [-40.5, -37, -34, -30.5, -27, -23.5, -20.5, -17.5, -14, -10.5, -7, -3.5],
    [-41, -37.5, -34.5, -31, -27.5, -24.5, -21, -17.5, -14.5, -11, -7.5, -3.5],
    [-39.5, -36, -33, -29.5, -26, -22.5, -19.5, -16.5, -13, -9.5, -6, -2.5],
    [-40, -36.5, -33.5, -30, -26.5, -23.5, -20, -16.5, -13.5, -10, -6.5, -2.5],
    [-38.5, -35, -32, -28.5, -25, -21.5, -18.5, -15.5, -12, -8.5, -5, -1.5],
    [-39, -35.5, -32.5, -29, -25.5, -22.5, -19, -15.5, -12.5, -9, -5.5, -1.5],
    [-37.5, -34, -31, -27.5, -24, -20.5, -17.5, -14.5, -11, -7.5, -4, -0.5],
    [-38, -34.5, -31.5, -28, -24.5, -21.5, -18, -14.5, -11.5, -8, -4.5, -0.5],
    [-36.5, -33, -30, -26.5, -23, -19.5, -16.5, -13.5, -10, -6.5, -3, 0.5],
    [-37, -33.5, -30.5, -27, -23.5, -20.5, -17, -13.5, -10.5, -7, -3.5, 0.5],
    [-35.5, -32, -29, -25.5, -22, -18.5, -15.5, -12.5, -9, -5.5, -2, 1.5],
    [-36.5, -33, -30, -26.5, -23, -20, -16.5, -13, -10, -6.5, -3, 1],
    [-35.5, -32.5, -29.5, -26, -22.5, -19.5, -16.5, -13, -9.5, -6.5, -3.5],
    [-34.5, -31.5, -28.5, -25.5, -22.5, -19.5, -16.5, -13.5, -10.5, -7.5, -4.5, -1.5],
    [-33.5, -30.5, -27.5, -24.5, -21.5, -18.5, -15.5, -12.5, -9.5, -6.5, -3.5],
    [-32.5, -29.5, -26.5, -23.5, -20.5, -17.5, -14.5, -11.5, -8.5, -5.5, -2.5],
    [-31.5, -28.5, -25.5, -22.5, -19.5, -16.5, -13.5, -10.5, -7.5, -4.5, -1.5],
    [-30.5, -27.5, -24.5, -21.5, -18.5, -15.5, -12.5, -9.5, -6.5, -3.5, -0.5],
    [-29.5, -26.5, -23.5, -20.5, -17.5, -14.5, -11.5, -8.5, -5.5, -2.5],
    [-28.5, -25.5, -22.5, -19.5, -16.5, -13.5, -10.5, -7.5, -4.5, -1.5],
    [-27.5, -24.5, -21.5, -18.5, -15.5, -12.5, -9.5, -6.5, -3.5, -0.5],
    [-26.5, -23.5, -20.5, -17.5, -14.5, -11.5, -8.5, -5.5, -2.5],
    [-25.5, -23, -20.5, -17.5, -14.5, -11.5, -8.5, -5.5, -2.5, 0.5],
    [-26.5, -24, -21, -18.5, -15.5, -12.5, -9.5, -6.5, -3.5, -0.5],
    [-25, -22, -19, -16, -13, -10, -7, -4, -1],
    [-25.5, -22.5, -19.5, -16.5, -13.5, -10.5, -7.5, -4.5, -1.5],
    [-26, -23, -20, -17, -14, -11, -8, -5, -2, 0.5],
    [-24.5, -21.5, -18.5, -15.5, -12.5, -9.5, -6.5, -3.5, -0.5],
    [-25, -22, -19, -16, -13, -10, -7, -4, -1],
    [-24, -21.5, -18.5, -15.5, -12.5, -9.5, -6.5, -3.5, -0.5],
    [-25.5, -22.5, -19.5, -16.5, -13.5, -10.5, -7.5, -4.5, -1.5, 1],
    [-24, -21, -18, -15, -12, -9, -6, -3, 0],
    [-25, -22.5, -19.5, -16.5, -13.5, -10.5, -7.5, -4.5, -1.5],
    [-24.5, -21.5, -18.5, -15.5, -12.5, -9.5, -6.5, -3.5, -0.5],
    [-25.5, -22.5, -19.5, -16.5, -13.5, -10.5, -7.5, -4.5, -1.5, 1],
    [-24, -21, -18, -15, -12, -9, -6, -3, 0],
    [-25, -22.5, -19.5, -16.5, -13.5, -10.5, -7.5, -4.5, -1.5],
    [-24.5, -21.5, -18.5, -15.5, -12.5, -9.5, -6.5, -3.5, -0.5],
    [-25.5, -22.5, -19.5, -16.5, -13.5, -10.5, -7.5, -4.5, -1.5, 1],
    [-24, -21, -18, -15, -12, -9, -6, -3, 0],
    [-25, -22.5, -19.5, -16.5, -13.5, -10.5, -7.5, -4.5, -1.5],
    [-24.5, -21.5, -18.5, -15.5, -12.5, -9.5, -6.5, -3.5, -0.5],
    [-25.5, -22.5, -19.5, -16.5, -13.5, -10.5, -7.5, -4.5, -1.5, 1],
    [-23.5, -20.5, -17.5, -14.5, -11.5, -8.5, -5.5, -2.5, 0.5],
    [-24.5, -21.5, -18.5, -15.5, -12.5, -9.5, -6.5, -3.5, -0.5],
    [-23.5, -20.5, -17.5, -14.5, -11.5, -8.5, -5.5, -2.5, 0.5],
    [-24, -21.5, -18.5, -15.5, -12.5, -9.5, -6.5, -3.5, -0.5],
    [-22.5, -19.5, -16.5, -13.5, -10.5, -7.5, -4.5, -1.5, 1.5],
]
# VOC_half: scattered points (x, y)
voc_pts = [
    (0.0101, -5), (0.0102, -16), (0.0104, 2), (0.0105, -12), (0.0108, -6), (0.0110, -15),
    (0.0112, 5), (0.0113, -3), (0.0116, 37), (0.0116, 23), (0.0118, -14), (0.0120, -7),
    (0.0122, -15), (0.0125, -1), (0.0127, 8), (0.0130, -14), (0.0132, -9), (0.0135, 2),
    (0.0138, -13), (0.0140, -20), (0.0143, -4), (0.0146, 27), (0.0148, 15), (0.0151, 35),
    (0.0152, -14), (0.0155, -6), (0.0160, 9), (0.0162, -15), (0.0165, 1), (0.0170, -12),
    (0.0172, 4), (0.0175, -16), (0.0178, 11), (0.0180, -8), (0.0185, -13), (0.0190, -3),
    (0.0195, 3), (0.0198, -15), (0.0205, -10), (0.0210, 0), (0.0215, -13), (0.0220, 6),
    (0.0225, -7), (0.0230, -16), (0.0235, 2), (0.0240, -12), (0.0245, 9), (0.0250, -5),
    (0.0258, -14), (0.0262, 3), (0.0270, -9), (0.0275, 12), (0.0280, -2), (0.0285, -14),
    (0.0293, 36.5), (0.0295, 5), (0.0300, -8), (0.0310, -12), (0.0315, 2), (0.0322, -15),
    (0.0330, 8), (0.0340, -6), (0.0345, -11), (0.0355, 12), (0.0360, 28), (0.0365, -3),
    (0.0375, 26), (0.0380, 4), (0.0390, -9), (0.0400, 37), (0.0402, 34), (0.0405, 12),
    (0.0410, -5), (0.0420, 17), (0.0425, 5), (0.0430, -3), (0.0445, 22), (0.0450, 20),
    (0.0455, -1), (0.0465, 8), (0.0475, -7), (0.0480, 10), (0.0490, 3), (0.0500, -5),
    (0.0510, 12), (0.0520, 6), (0.0530, -2), (0.0540, 9), (0.0550, 3), (0.0560, -4),
    (0.0575, 5), (0.0590, 10), (0.0600, 1), (0.0610, 8), (0.0620, -3), (0.0630, 29),
    (0.0640, 4), (0.0660, 25), (0.0670, -1), (0.0690, 30), (0.0700, 7), (0.0720, 3),
    (0.0740, 27), (0.0750, -2), (0.0760, 9), (0.0780, 1), (0.0790, -4), (0.0810, 34.5),
    (0.0820, 6), (0.0840, 25.8), (0.0850, 2), (0.0870, -2), (0.0890, 8), (0.0910, 12),
    (0.0930, 1), (0.0950, -3), (0.0960, 4), (0.1000, -1), (0.1030, 19), (0.1050, 7),
    (0.1080, 3), (0.1100, 16), (0.1120, -2), (0.1150, 10), (0.1170, 23), (0.1200, 2),
    (0.1220, 6), (0.1250, 21), (0.1280, 0), (0.1300, 9), (0.1320, -1), (0.1350, 17),
    (0.1370, 4), (0.1400, 7), (0.1430, 15), (0.1450, 1), (0.1480, 11), (0.1500, -1),
    (0.1520, 16), (0.1550, 5), (0.1580, 3), (0.1600, 18), (0.1630, 8), (0.1650, 2),
    (0.1680, 12), (0.1720, 7), (0.1750, 4), (0.1780, 11), (0.1800, 1), (0.1830, 14),
    (0.1850, 16), (0.1880, 6), (0.1900, 20), (0.1930, 9), (0.1950, 23), (0.1980, 3),
    (0.2000, 25), (0.205, 10), (0.210, 5), (0.215, 14), (0.220, 16), (0.225, 8),
    (0.230, 4), (0.235, 12), (0.237, 17), (0.245, 6), (0.250, 10), (0.255, 3),
    (0.259, 19), (0.265, 13), (0.270, 6), (0.275, 9), (0.282, 26), (0.285, 4),
    (0.290, 12), (0.295, 7), (0.300, 15), (0.309, 23), (0.315, 5), (0.320, 10),
    (0.325, 13), (0.337, 22), (0.340, 6), (0.345, 16), (0.355, 9), (0.360, 4),
    (0.370, 12), (0.380, 15), (0.390, 13), (0.395, 6), (0.405, 8), (0.415, 17),
    (0.425, 10), (0.430, 16), (0.440, 5), (0.450, 12), (0.460, 18), (0.470, 7),
    (0.480, 14), (0.490, 9), (0.500, 5), (0.510, 11), (0.520, 16), (0.540, 19),
    (0.550, 8), (0.560, 13), (0.570, 6), (0.580, 10), (0.590, 15), (0.600, 21),
    (0.610, 8), (0.625, 12), (0.640, 5), (0.650, 17), (0.665, 10), (0.680, 21),
    (0.690, 6), (0.700, 13), (0.715, 9), (0.730, 16), (0.745, 6), (0.760, 15),
    (0.775, 11), (0.790, 7), (0.805, 17), (0.820, 12), (0.840, 19), (0.855, 8),
    (0.870, 14), (0.885, 6), (0.900, 10), (0.920, 12), (0.935, 5), (0.940, 26),
    (0.955, 9), (0.970, 13), (0.985, 7), (0.995, 18),
    (0.208, 1), (0.218, 3), (0.228, 0), (0.239, 2), (0.248, 1), (0.262, 3), (0.272, 1),
    (0.288, 3), (0.302, 2), (0.312, 4), (0.330, 2), (0.352, 3), (0.372, 2), (0.392, 4),
    (0.412, 2), (0.432, 3), (0.452, 1), (0.475, 3), (0.495, 2), (0.515, 4), (0.545, 2),
    (0.575, 3), (0.615, 4), (0.645, 2), (0.675, 4), (0.712, 2), (0.752, 4), (0.792, 3),
    (0.832, 5), (0.872, 3), (0.912, 5), (0.952, 3), (0.990, 6),
    (0.0105, -60), (0.0110, -63), (0.0120, -64), (0.0132, -65), (0.0145, -62), (0.0160, -63),
    (0.0175, -61), (0.0190, -65), (0.0210, -62), (0.0235, -63), (0.0270, -64), (0.0300, -61),
    (0.0320, -62), (0.0350, -60), (0.0380, -62), (0.0410, -60), (0.0440, -62), (0.0480, -62),
    (0.0500, -58), (0.0530, -59), (0.0570, -56), (0.0630, -55), (0.0690, -55), (0.0750, -52),
    (0.0810, -52), (0.0880, -49), (0.0950, -48), (0.1040, -52), (0.1130, -48), (0.1200, -45),
    (0.1280, -46), (0.1390, -45), (0.1500, -42), (0.1600, -43), (0.1720, -40), (0.1850, -41),
    (0.1950, -39), (0.210, -39), (0.225, -37), (0.240, -36), (0.260, -35), (0.280, -33),
    (0.330, -32), (0.380, -33), (0.450, -31), (0.520, -31), (0.570, -35), (0.600, -30),
    (0.660, -34), (0.720, -32), (0.780, -29), (0.860, -33), (0.900, -37), (0.950, -31),
    (0.980, -35),
]

thresholds = [0.08, 0.2]
threshold_labels = ['0.08', '0.2']


def columns_to_xy(cols_x, cols_y):
    xs, ys = [], []
    for cx, cy in zip(cols_x, cols_y):
        xs += [cx] * len(cy)
        ys += cy
    return xs, ys


nox_x, nox_y = [], []
for cx, cy in [(nox_band_x, nox_band_y), (nox_band2_x, nox_band2_y),
               (nox_low_x, nox_low_y), (nox_low2_x, nox_low2_y)]:
    a, b = columns_to_xy(cx, cy)
    nox_x += a
    nox_y += b
nox_x += [p[0] for p in nox_pts]
nox_y += [p[1] for p in nox_pts]

voc_x, voc_y = [], []
for cx, cy in [(voc_band_x, voc_band_y), (voc_band2_x, voc_band2_y)]:
    a, b = columns_to_xy(cx, cy)
    voc_x += a
    voc_y += b
voc_x += [p[0] for p in voc_pts]
voc_y += [p[1] for p in voc_pts]

FONT = 'Liberation Serif'

fig = go.Figure()

fig.add_trace(go.Scatter(
    x=nox_x, y=nox_y, mode='markers', name='NOx_half',
    marker=dict(symbol='circle-open', size=34, color='#ff0000',
                line=dict(width=3.5, color='#ff0000'))
))
fig.add_trace(go.Scatter(
    x=voc_x, y=voc_y, mode='markers', name='VOC_half',
    marker=dict(symbol='asterisk-open', size=33, color='#0000ff',
                line=dict(width=4, color='#0000ff'))
))

# threshold lines
for t in thresholds:
    fig.add_trace(go.Scatter(
        x=[t, t], y=[-100, 100], mode='lines',
        line=dict(color='black', width=7), hoverinfo='skip'
    ))

for t, lab in zip(thresholds, threshold_labels):
    fig.add_annotation(x=math.log10(t), y=-90, xref='x', yref='y', text=lab,
                       showarrow=False, xanchor='left', yanchor='middle', xshift=56,
                       font=dict(family=FONT, size=100, color='black'))

# legend (drawn by hand so the keys keep the size of the figure)
fig.add_annotation(x=0.751, y=0.929, xref='paper', yref='paper', text='\u25cb',
                   showarrow=False, xanchor='center', yanchor='middle',
                   font=dict(family='DejaVu Sans', size=64, color='#ff0000'))
fig.add_annotation(x=0.751, y=0.857, xref='paper', yref='paper', text='\u2733',
                   showarrow=False, xanchor='center', yanchor='middle',
                   font=dict(family='DejaVu Sans', size=66, color='#0000ff'))
fig.add_annotation(x=0.806, y=0.929, xref='paper', yref='paper', text='NO<sub>x</sub>_half',
                   showarrow=False, xanchor='left', yanchor='middle',
                   font=dict(family=FONT, size=100, color='black'))
fig.add_annotation(x=0.806, y=0.857, xref='paper', yref='paper', text='VOC_half',
                   showarrow=False, xanchor='left', yanchor='middle',
                   font=dict(family=FONT, size=100, color='black'))

# y axis title, placed as in the figure
fig.add_annotation(x=-0.1303, y=0.498, xref='paper', yref='paper',
                   text='Difference in PO<sub>3</sub>(100%)', textangle=-90,
                   showarrow=False, xanchor='center', yanchor='middle',
                   font=dict(family=FONT, size=110, color='black'))

axis_common = dict(
    showline=True, linecolor='#222222', linewidth=4, mirror='ticks',
    ticks='inside', tickcolor='#222222', tickwidth=3, ticklen=26,
    showgrid=False, zeroline=False, automargin=False,
)

fig.update_layout(
    width=3260, height=2540,
    margin=dict(l=445, r=105, t=83, b=391),
    paper_bgcolor='white', plot_bgcolor='white',
    showlegend=False,
    font=dict(family=FONT, color='black'),
    xaxis=dict(
        type='log', range=[-2, 0],
        tickvals=[0.01, 0.1, 1],
        ticktext=['10<sup>-2</sup>', '10<sup>-1</sup>', '10<sup>0</sup>'],
        tickfont=dict(family=FONT, size=97, color='black'),
        ticklabelstandoff=20,
        minor=dict(ticks='inside', ticklen=14, tickwidth=3, tickcolor='#222222',
                   tickvals=[0.02, 0.03, 0.04, 0.05, 0.06, 0.07, 0.08, 0.09,
                             0.2, 0.3, 0.4, 0.5, 0.6, 0.7, 0.8, 0.9]),
        title=dict(text='P(H<sub>2</sub>O<sub>2</sub>)/P(HNO<sub>3</sub>)',
                   font=dict(family=FONT, size=104, color='black'), standoff=35),
        **axis_common
    ),
    yaxis=dict(
        range=[-100, 100],
        tickvals=[-100, -50, 0, 50, 100],
        tickfont=dict(family=FONT, size=108, color='black'),
        ticklabelstandoff=10,
        **axis_common
    ),
)

fig.write_html('out.html', post_script="document.body.style.margin='0';")
